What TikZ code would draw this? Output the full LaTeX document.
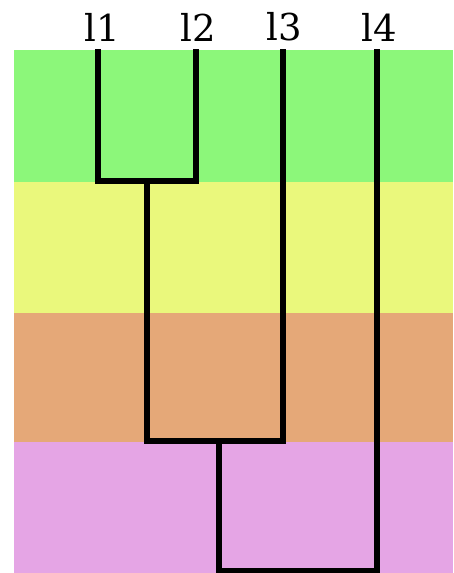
\documentclass[tikz,border=0pt]{standalone}
\usepackage{fontspec}
\setmainfont{DejaVu Serif}
\definecolor{bgreen}{HTML}{8CF77A}
\definecolor{byellow}{HTML}{EAF87C}
\definecolor{borange}{HTML}{E5A878}
\definecolor{bpink}{HTML}{E5A5E5}
\begin{document}
\begin{tikzpicture}[x=1pt,y=-1pt,
  band/.style={fill=#1,draw=none},
  lbl/.style={inner sep=0pt,font=\fontsize{37}{42}\selectfont},
  tree/.style={line width=5.5pt,draw=black,line cap=rect}]
\useasboundingbox (0,0) rectangle (453,573);
\fill[white] (0,0) rectangle (453,573);
\path[band=bgreen] (14,50) rectangle (453,182);
\path[band=byellow] (14,182) rectangle (453,313);
\path[band=borange] (14,313) rectangle (453,442);
\path[band=bpink] (14,442) rectangle (453,573);
\node[lbl] (l1) at (102,27) {l1};
\node[lbl] (l2) at (198,27) {l2};
\node[lbl] (l3) at (284,27) {l3};
\node[lbl] (l4) at (379,27) {l4};
\coordinate (t1) at (98,52);
\coordinate (t2) at (196,52);
\coordinate (t3) at (283,52);
\coordinate (t4) at (377,52);
\coordinate (j12) at (147,181);
\coordinate (j123) at (219,441);
\coordinate (root) at (298,571);
\draw[tree] (t1) |- (j12) -| (t2);
\draw[tree] (j12) |- (j123) -| (t3);
\draw[tree] (j123) |- (root) -| (t4);
\end{tikzpicture}
\end{document}
